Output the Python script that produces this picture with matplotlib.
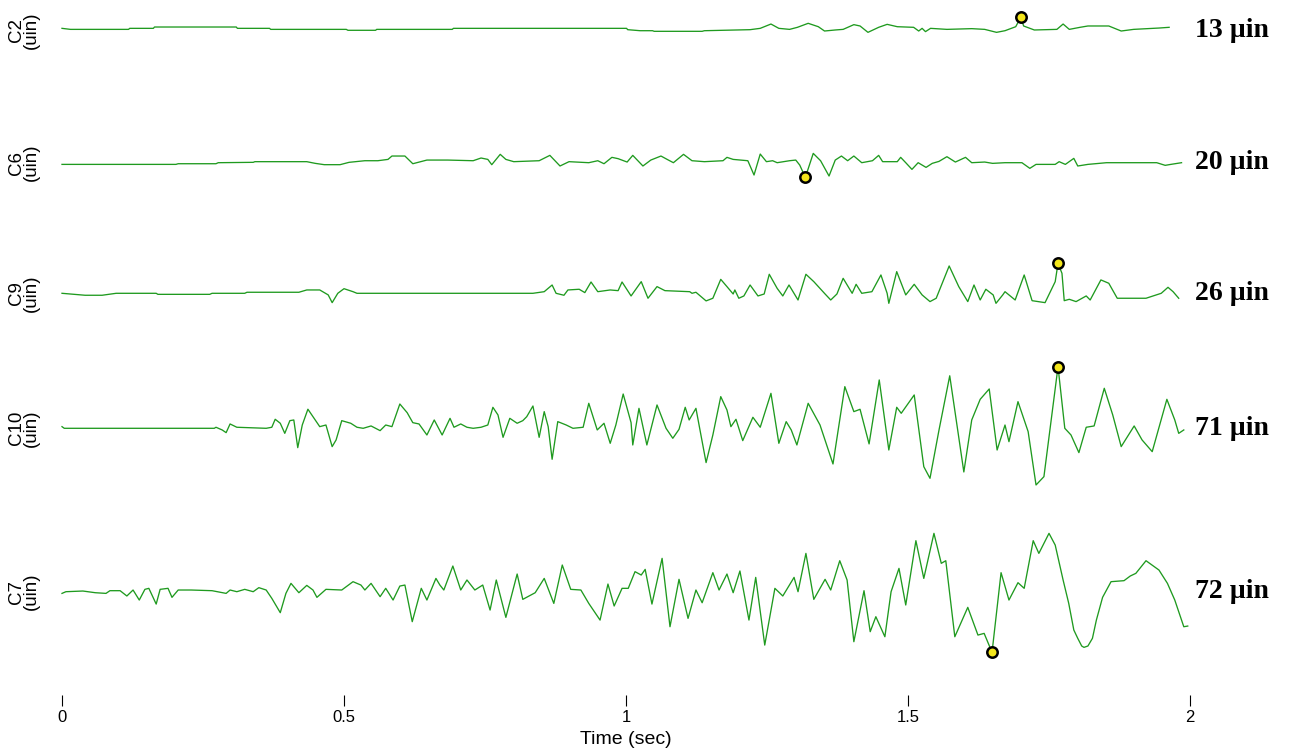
import matplotlib
matplotlib.use("Agg")
import matplotlib.pyplot as plt
import numpy as np

# Displacement traces (time in seconds, displacement in micro-inches)
channels = ["C2", "C6", "C9", "C10", "C7"]

t_c2 = [0.000, 0.015, 0.118, 0.120, 0.162, 0.164, 0.309, 0.311, 0.368, 0.370,
        0.504, 0.507, 0.556, 0.558, 0.692, 0.694, 1.001, 1.003, 1.025, 1.047,
        1.050, 1.135, 1.139, 1.220, 1.238, 1.257, 1.271, 1.290, 1.304, 1.323,
        1.341, 1.352, 1.371, 1.385, 1.404, 1.415, 1.429, 1.448, 1.463, 1.481,
        1.510, 1.519, 1.525, 1.531, 1.540, 1.569, 1.613, 1.636, 1.657, 1.672,
        1.691, 1.700, 1.705, 1.724, 1.764, 1.775, 1.786, 1.805, 1.819, 1.856,
        1.878, 1.900, 1.945, 1.963]
v_c2 = [2.1, 1.1, 1.1, 2.1, 2.1, 3.4, 3.4, 2.1, 2.1, 1.1,
        1.1, 0.2, 0.2, 1.1, 1.1, 2.1, 2.1, 0.8, -0.2, -0.2,
        -0.8, -0.8, -0.2, 0.8, 2.1, 6.3, 2.1, 1.1, 3.1, 7.0,
        3.7, -0.5, 0.5, 1.1, 5.7, 4.4, -1.8, 3.1, 6.0, 3.7,
        3.1, -0.5, 2.1, -1.1, 2.1, 1.1, 1.8, 1.1, -1.8, -0.2,
        3.7, 13.0, 4.4, 0.5, 1.1, 6.3, 1.1, 3.1, 4.4, 4.4,
        -0.5, 1.1, 2.4, 3.1]

t_c6 = [0.000, 0.202, 0.206, 0.273, 0.277, 0.339, 0.342, 0.434, 0.449, 0.465,
        0.493, 0.509, 0.537, 0.560, 0.578, 0.585, 0.608, 0.622, 0.647, 0.684,
        0.729, 0.743, 0.755, 0.762, 0.777, 0.787, 0.801, 0.846, 0.865, 0.883,
        0.899, 0.934, 0.950, 0.961, 0.975, 0.986, 1.002, 1.012, 1.030, 1.044,
        1.062, 1.073, 1.084, 1.102, 1.117, 1.139, 1.172, 1.179, 1.190, 1.216,
        1.227, 1.238, 1.249, 1.260, 1.268, 1.290, 1.301, 1.308, 1.318, 1.332,
        1.345, 1.360, 1.371, 1.382, 1.393, 1.404, 1.418, 1.437, 1.448, 1.455,
        1.481, 1.487, 1.496, 1.507, 1.518, 1.532, 1.543, 1.555, 1.569, 1.584,
        1.602, 1.613, 1.636, 1.650, 1.672, 1.702, 1.716, 1.727, 1.761, 1.768,
        1.779, 1.794, 1.801, 1.819, 1.852, 1.941, 1.956, 1.966, 1.985]
v_c6 = [-2.3, -2.3, -1.4, -1.4, 0.0, 0.5, 1.4, 1.4, -0.9, -2.7,
        -2.7, 0.5, 2.7, 2.7, 4.5, 9.1, 9.1, -1.4, 3.6, 3.6,
        2.7, 6.4, 4.5, -2.7, 11.4, 4.5, 1.4, 2.7, 10.0, -4.5,
        1.4, 0.0, 2.7, -1.4, 7.3, 5.5, 0.9, 10.0, -4.5, 3.6,
        9.1, 4.5, 0.0, 11.4, 2.7, 1.4, 2.7, 7.3, 4.5, 2.7,
        -16.8, 11.8, 1.4, 2.7, 0.0, 2.7, 3.6, -3.2, -20.0, 12.7,
        2.7, -18.2, 3.6, 9.1, 2.7, 9.1, 0.0, 2.7, 10.0, 1.4,
        1.4, 7.3, 0.0, -9.1, 0.0, -6.4, -0.9, 1.8, 8.2, 0.9,
        7.3, 0.0, 0.9, -0.9, 0.0, 0.0, -7.7, -2.3, -2.3, 1.4,
        -2.3, 5.9, -4.5, -2.3, 0.0, 0.0, -3.6, -2.3, 0.0]

t_c9 = [0.000, 0.041, 0.071, 0.096, 0.167, 0.170, 0.262, 0.266, 0.324, 0.328,
        0.420, 0.434, 0.457, 0.472, 0.479, 0.489, 0.500, 0.516, 0.523, 0.835,
        0.855, 0.869, 0.876, 0.890, 0.897, 0.917, 0.927, 0.938, 0.950, 0.972,
        0.986, 0.993, 1.009, 1.027, 1.039, 1.055, 1.069, 1.113, 1.117, 1.124,
        1.142, 1.154, 1.168, 1.179, 1.190, 1.193, 1.200, 1.209, 1.220, 1.234,
        1.245, 1.254, 1.268, 1.278, 1.289, 1.305, 1.319, 1.333, 1.353, 1.363,
        1.374, 1.385, 1.401, 1.408, 1.418, 1.436, 1.452, 1.463, 1.466, 1.480,
        1.496, 1.511, 1.525, 1.539, 1.550, 1.573, 1.590, 1.606, 1.617, 1.628,
        1.638, 1.651, 1.656, 1.668, 1.672, 1.690, 1.706, 1.720, 1.743, 1.761,
        1.766, 1.773, 1.777, 1.786, 1.798, 1.816, 1.823, 1.842, 1.856, 1.871,
        1.922, 1.949, 1.961, 1.970, 1.980]
v_c9 = [0.0, -1.7, -1.7, 0.0, 0.0, -0.9, -0.9, 0.0, 0.0, 0.9,
        0.9, 2.9, 2.9, -1.4, -8.1, 0.0, 4.0, 1.4, 0.0, 0.0,
        1.4, 7.2, 0.0, -1.7, 2.9, 3.5, 0.6, 9.8, 1.4, 2.9,
        2.3, 9.8, -2.3, 10.1, -4.3, 5.8, 2.3, 1.4, 0.0, 0.9,
        -6.6, -4.3, 12.1, 5.8, -0.6, 2.9, -4.3, -2.3, 7.2, -2.3,
        -0.6, 16.5, 4.3, -2.3, 7.2, -5.8, 16.5, 10.1, -0.6, -5.8,
        -0.6, 13.0, 0.0, 7.8, 0.0, 1.4, 15.9, 0.0, -8.7, 18.8,
        -1.4, 7.8, -1.4, -7.2, -4.3, 23.7, 5.8, -7.2, 7.2, -5.8,
        3.5, -1.4, -8.7, -1.4, 1.4, -5.8, 15.9, -6.4, -8.1, 10.1,
        26.0, 17.3, -6.4, -5.2, -7.2, -2.3, -5.8, 11.6, 8.7, -4.3,
        -4.3, 0.0, 5.2, 1.4, -4.3]

t_c10 = [0.000, 0.004, 0.270, 0.273, 0.284, 0.291, 0.298, 0.310, 0.362, 0.372,
         0.378, 0.387, 0.395, 0.404, 0.411, 0.418, 0.426, 0.436, 0.445, 0.457,
         0.468, 0.479, 0.486, 0.496, 0.512, 0.523, 0.534, 0.548, 0.564, 0.574,
         0.585, 0.599, 0.612, 0.622, 0.633, 0.647, 0.660, 0.674, 0.688, 0.695,
         0.707, 0.718, 0.729, 0.743, 0.755, 0.764, 0.773, 0.782, 0.794, 0.807,
         0.817, 0.824, 0.835, 0.846, 0.855, 0.862, 0.869, 0.879, 0.894, 0.906,
         0.924, 0.934, 0.949, 0.961, 0.972, 0.982, 0.995, 1.009, 1.012, 1.023,
         1.037, 1.055, 1.071, 1.083, 1.094, 1.105, 1.112, 1.124, 1.142, 1.154,
         1.168, 1.179, 1.186, 1.195, 1.207, 1.225, 1.238, 1.257, 1.271, 1.284,
         1.293, 1.303, 1.323, 1.344, 1.367, 1.388, 1.404, 1.415, 1.431, 1.449,
         1.466, 1.480, 1.488, 1.511, 1.528, 1.539, 1.555, 1.574, 1.599, 1.613,
         1.628, 1.644, 1.658, 1.672, 1.679, 1.695, 1.713, 1.727, 1.741, 1.766,
         1.778, 1.789, 1.803, 1.816, 1.830, 1.848, 1.863, 1.878, 1.901, 1.915,
         1.933, 1.959, 1.973, 1.980, 1.989]
v_c10 = [1.9, 0.0, 0.0, 1.2, -1.9, -5.0, 5.0, 1.2, 0.0, 1.2,
         10.4, 5.8, -5.8, 8.8, 9.6, -22.3, 3.8, 22.0, 13.4, 1.9,
         3.8, -21.1, -13.4, 8.8, 5.8, 1.2, 0.0, 2.7, -2.7, 3.8,
         1.9, 28.0, 18.0, 6.5, 5.0, -7.7, 9.6, -7.7, 11.5, 1.2,
         5.0, 1.2, 0.0, 1.2, 3.8, 24.2, 15.4, -10.4, 11.5, 5.8,
         8.8, 13.4, 25.7, -10.4, 19.2, 1.9, -35.7, 7.7, 3.8, 0.0,
         1.2, 28.8, -1.9, 5.8, -17.3, 3.8, 39.5, 6.5, -19.2, 23.0,
         -19.2, 26.9, 0.0, -11.5, -1.2, 24.2, 9.6, 23.0, -39.5, -7.7,
         36.5, 21.1, 1.9, 10.4, -14.2, 12.7, 1.2, 40.3, -17.3, 7.7,
         -1.9, -19.2, 28.8, 3.8, -41.1, 48.0, 19.2, 21.9, -18.0, 55.7,
         -25.0, 24.2, 17.3, 38.4, -44.2, -57.6, -1.9, 60.5, -50.3, 9.6,
         33.4, 45.3, -25.0, 3.8, -15.4, 30.7, -3.8, -65.3, -55.7, 71.0,
         0.0, -7.7, -28.0, 1.2, 2.7, 46.1, 15.4, -21.1, 2.7, -13.4,
         -26.9, 33.4, 9.6, -5.8, -1.9]

t_c7 = [0.000, 0.007, 0.037, 0.059, 0.078, 0.085, 0.103, 0.115, 0.126, 0.137,
        0.147, 0.154, 0.167, 0.174, 0.188, 0.195, 0.206, 0.229, 0.266, 0.291,
        0.298, 0.310, 0.324, 0.339, 0.349, 0.362, 0.372, 0.387, 0.397, 0.406,
        0.420, 0.434, 0.445, 0.452, 0.468, 0.496, 0.516, 0.530, 0.537, 0.548,
        0.564, 0.574, 0.587, 0.599, 0.608, 0.621, 0.637, 0.647, 0.663, 0.670,
        0.677, 0.693, 0.707, 0.718, 0.732, 0.746, 0.759, 0.770, 0.787, 0.807,
        0.817, 0.839, 0.855, 0.872, 0.887, 0.902, 0.920, 0.934, 0.954, 0.968,
        0.979, 0.993, 1.004, 1.016, 1.027, 1.034, 1.046, 1.064, 1.078, 1.094,
        1.110, 1.124, 1.135, 1.154, 1.165, 1.179, 1.190, 1.202, 1.218, 1.230,
        1.246, 1.264, 1.278, 1.298, 1.305, 1.319, 1.333, 1.353, 1.363, 1.379,
        1.392, 1.404, 1.422, 1.433, 1.443, 1.459, 1.470, 1.484, 1.496, 1.514,
        1.528, 1.546, 1.559, 1.567, 1.583, 1.606, 1.624, 1.635, 1.649, 1.665,
        1.679, 1.695, 1.706, 1.722, 1.732, 1.750, 1.761, 1.775, 1.785, 1.794,
        1.801, 1.808, 1.812, 1.819, 1.827, 1.834, 1.845, 1.860, 1.883, 1.894,
        1.904, 1.922, 1.945, 1.960, 1.973, 1.981, 1.989, 1.996]
v_c7 = [-2.0, 0.0, 0.8, -1.2, -2.0, 1.2, 1.2, -5.1, 2.0, -9.9,
        2.8, 4.0, -14.7, 2.8, 4.0, -6.7, 2.0, 2.0, 1.2, -2.0,
        2.0, 0.0, 2.8, 0.0, 4.8, 2.0, -7.9, -24.9, -2.0, 9.9,
        -1.2, 7.5, 2.0, -6.7, 2.8, 2.0, 11.9, 7.9, 2.0, 9.9,
        -5.9, 4.0, -9.9, 6.7, 7.9, -35.6, 4.0, -9.9, 15.8, 7.9,
        2.0, 30.5, 2.0, 13.9, 2.0, 7.9, -21.8, 13.9, -30.5, 21.0,
        -9.1, -1.2, 15.8, -13.9, 31.7, 2.8, 2.0, -13.9, -33.7, 9.1,
        -17.0, 4.0, 4.0, 23.8, 19.8, 26.5, -14.7, 39.6, -41.6, 14.7,
        -31.7, 2.0, -13.1, 22.6, 2.0, 21.0, -1.2, 24.6, -33.7, 17.0,
        -63.4, 4.0, -5.1, 17.0, 0.0, 45.5, -9.1, 14.7, 2.0, 36.8,
        13.9, -59.4, 1.2, -47.5, -29.7, -53.5, 0.0, 27.7, -15.8, 60.6,
        15.8, 69.3, 33.7, 36.8, -53.5, -18.6, -51.5, -49.5, -72.0, 22.6,
        -9.9, 10.7, 4.0, 60.6, 45.5, 69.3, 55.4, 13.9, -13.9, -45.5,
        -55.4, -64.5, -66.1, -64.5, -55.4, -33.7, -6.7, 11.9, 13.1, 18.6,
        21.8, 36.8, 25.7, 9.9, -9.9, -25.7, -41.6, -40.8]

traces = {
    "C2": (t_c2, v_c2),
    "C6": (t_c6, v_c6),
    "C9": (t_c9, v_c9),
    "C10": (t_c10, v_c10),
    "C7": (t_c7, v_c7),
}

time_ticks = [0, 0.5, 1, 1.5, 2]
time_tick_labels = ["0", "0.5", "1", "1.5", "2"]

# ---- layout (pixels) ----
W, H = 1293, 753
fig = plt.figure(figsize=(W / 100, H / 100), dpi=100)
fig.patch.set_facecolor("white")
left = 62 / W
width = 1128 / W

# baseline row position (px from top) and vertical gain (px per micro-inch)
row_layout = {
    "C2": (30.5, 1.026),
    "C6": (162.7, 0.733),
    "C9": (293.3, 1.153),
    "C10": (428.3, 0.868),
    "C7": (591.7, 0.842),
}
half = 70  # half-height of each trace strip, px

line_color = "#1f9a1f"
sans = ["Liberation Sans", "DejaVu Sans"]
serif = ["Liberation Serif", "DejaVu Serif"]

for name in channels:
    t = np.asarray(traces[name][0])
    v = np.asarray(traces[name][1])
    base, gain = row_layout[name]
    ax = fig.add_axes([left, (H - base - half) / H, width, 2 * half / H])
    ax.set_xlim(0, 2)
    ax.set_ylim(-half / gain, half / gain)
    ax.axis("off")
    ax.plot(t, v, color=line_color, lw=0.95, clip_on=False, zorder=2,
            solid_joinstyle="round")

    i = int(np.argmax(np.abs(v)))
    ax.plot(t[i], v[i], "o", ms=7.5, mfc="#f4e61c", mec="black", mew=1.8,
            clip_on=False, zorder=3)

    fig.text(24 / W, 1 - base / H, f"{name}\n(uin)", rotation=90,
             ha="center", va="center", fontsize=13.5, family=sans,
             linespacing=0.85, multialignment="center")
    fig.text(1195 / W, 1 - base / H, f"{abs(v[i]):.0f} µin",
             ha="left", va="center", fontsize=20, family=serif,
             fontweight="bold")

# time axis
axt = fig.add_axes([left, (H - 706) / H, width, 0.5 / H])
axt.set_xlim(0, 2)
axt.set_yticks([])
for s in axt.spines.values():
    s.set_visible(False)
axt.set_facecolor("none")
axt.set_xticks(time_ticks)
axt.set_xticklabels(time_tick_labels, family=sans, fontsize=12)
axt.tick_params(axis="x", direction="in", length=8, width=0.8, pad=3,
                colors="black")
axt.set_xlabel("Time (sec)", family=sans, fontsize=14, labelpad=4)

fig.savefig("out.png", dpi=100, facecolor="white")
